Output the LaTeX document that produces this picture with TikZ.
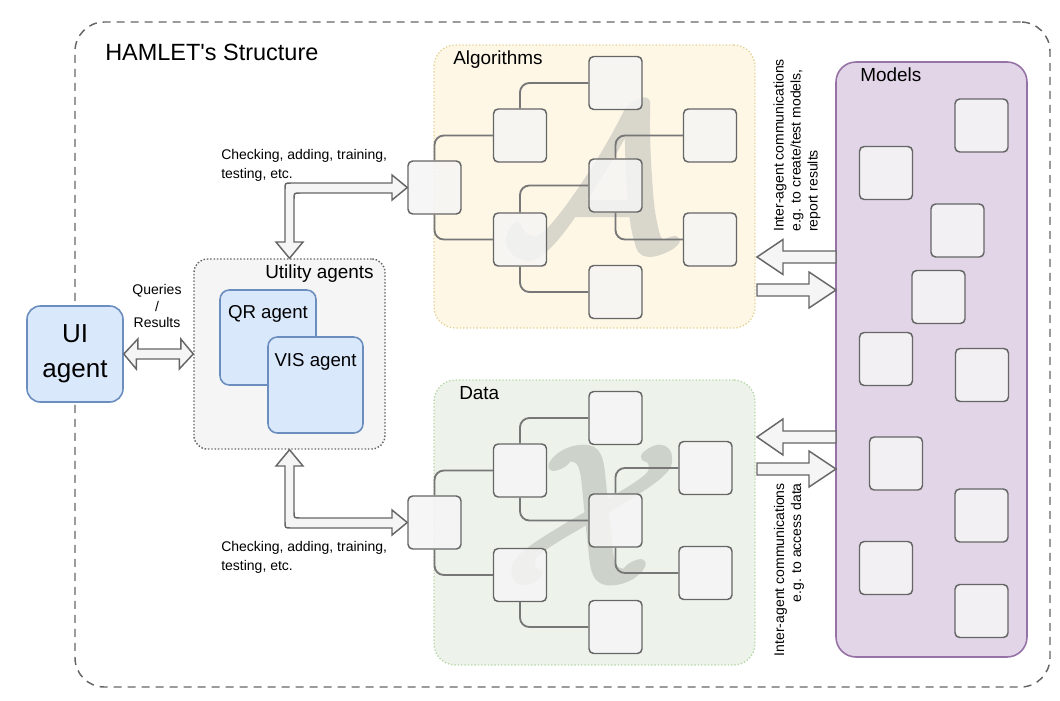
\documentclass[tikz,border=0pt]{standalone}
\usepackage{fontspec}
\setmainfont{Liberation Sans}[Ligatures=TeXOff]
\usetikzlibrary{calc}
\definecolor{cdark}{HTML}{666666}
\definecolor{cline}{HTML}{777777}
\definecolor{cbox}{HTML}{F5F5F5}
\definecolor{algfill}{HTML}{FEF7E6}
\definecolor{algdraw}{HTML}{E3D295}
\definecolor{datfill}{HTML}{EDF3EA}
\definecolor{datdraw}{HTML}{B7D7A8}
\definecolor{modfill}{HTML}{E1D5E7}
\definecolor{moddraw}{HTML}{9673A6}
\definecolor{bluefill}{HTML}{DAE8FC}
\definecolor{bluedraw}{HTML}{6C8EBF}
\definecolor{letterA}{HTML}{D9D6CC}
\definecolor{letterX}{HTML}{CDD3CA}
\newcommand{\fatglyph}[1]{\special{pdf:literal direct 2 Tr 0.3 w 1 j}#1\special{pdf:literal direct 0 Tr}}
\begin{document}
\begin{tikzpicture}[x=0.75pt,y=-0.75pt,
  cell/.style={draw=cdark, line width=1.1pt, fill=cbox, fill opacity=0.85, rounded corners=3.5pt, minimum size=39.75pt, inner sep=0pt},
  conn/.style={draw=cline, line width=1.4pt, rounded corners=7pt},
  barrow/.style={draw=cdark, line width=1.1pt, fill=cbox, line join=miter},
  bluebox/.style={draw=bluedraw, fill=bluefill, line width=1.2pt, inner sep=0pt},
  paneltitle/.style={font=\fontsize{14.2}{17}\selectfont, inner sep=0pt, anchor=west},
  smalltext/.style={font=\fontsize{10.5}{14.2}\selectfont, inner sep=0pt, align=left},
  vtext/.style={font=\fontsize{10.5}{12.75}\selectfont, inner sep=0pt, rotate=90},
  bigletter/.style={inner sep=0pt}
]
\useasboundingbox (0,0) rectangle (1060,700);

% outer dashed frame
\node[draw=cdark, line width=1.1pt, dash pattern=on 6pt off 4.5pt, rounded corners=22pt,
  minimum width=731.25pt, minimum height=498.75pt, inner sep=0pt] (outer) at (562.5,354.5) {};
\node[font=\fontsize{17.6}{21}\selectfont, inner sep=0pt, anchor=west] (title) at (105,52) {HAMLET's Structure};

% panels
\node[draw=algdraw, fill=algfill, line width=1pt, dash pattern=on 1pt off 1.5pt, rounded corners=16pt,
  minimum width=240.75pt, minimum height=212.25pt, inner sep=0pt] (alg) at (594.5,186.5) {};
\node[draw=datdraw, fill=datfill, line width=1pt, dash pattern=on 1pt off 1.5pt, rounded corners=16pt,
  minimum width=240.75pt, minimum height=213.75pt, inner sep=0pt] (dat) at (594.5,522.5) {};
\node[draw=moddraw, fill=modfill, line width=1.2pt, rounded corners=15pt,
  minimum width=143.25pt, minimum height=446.25pt, inner sep=0pt] (models) at (931.5,359.5) {};
\node[draw=cdark, fill=cbox, line width=1.1pt, dash pattern=on 1.1pt off 1.4pt, rounded corners=10pt,
  minimum width=143.25pt, minimum height=142.5pt, inner sep=0pt] (util) at (289.5,354) {};

\node[paneltitle] (algt) at (453,60) {Algorithms};
\node[paneltitle] (datt) at (459,393) {Data};
\node[paneltitle] (modt) at (860,75) {Models};
\node[paneltitle] (utilt) at (265,274) {Utility agents};

% big background letters
\node[bigletter, text=letterA, xscale=16.3, yscale=15.3] (bigA) at (590,178) {\fatglyph{$\mathcal{A}$}};
\node[bigletter, text=letterX, xscale=15.3, yscale=14.8] (bigX) at (592,515) {\fatglyph{$\mathcal{X}$}};

% algorithm boxes
\node[cell] (a0) at (434.5,187.5) {};
\node[cell] (a1) at (520,135.5) {};
\node[cell] (a2) at (615.5,83) {};
\node[cell] (a3) at (615.5,185.5) {};
\node[cell] (a4) at (520,239.5) {};
\node[cell] (a5) at (615.5,292) {};
\node[cell] (a6) at (710,135.5) {};
\node[cell] (a7) at (710,239.5) {};
\draw[conn] (a0.north) |- (a1.west);
\draw[conn] (a0.south) |- (a4.west);
\draw[conn] (a1.north) |- (a2.west);
\draw[conn] (a4.north) |- (a3.west);
\draw[conn] (a4.south) |- (a5.west);
\draw[conn] (a3.north) |- (a6.west);
\draw[conn] (a3.south) |- (a7.west);

% data boxes
\node[cell] (d0) at (434.5,522.5) {};
\node[cell] (d1) at (520,470.5) {};
\node[cell] (d2) at (615.5,418) {};
\node[cell] (d3) at (615.5,520.5) {};
\node[cell] (d4) at (520,575) {};
\node[cell] (d5) at (615.5,627) {};
\node[cell] (d6) at (705.5,468) {};
\node[cell] (d7) at (705.5,573) {};
\draw[conn] (d0.north) |- (d1.west);
\draw[conn] (d0.south) |- (d4.west);
\draw[conn] (d1.north) |- (d2.west);
\draw[conn] (d1.south) |- (d3.west);
\draw[conn] (d4.south) |- (d5.west);
\draw[conn] (d3.north) |- (d6.west);
\draw[conn] (d3.south) |- (d7.west);

% model boxes
\node[cell] (m1) at (981.5,125.5) {};
\node[cell] (m2) at (886,173) {};
\node[cell] (m3) at (957.5,230.5) {};
\node[cell] (m4) at (938.5,297) {};
\node[cell] (m5) at (886,359) {};
\node[cell] (m6) at (982,375) {};
\node[cell] (m7) at (896,463.5) {};
\node[cell] (m8) at (981.5,515.5) {};
\node[cell] (m9) at (886,568) {};
\node[cell] (m10) at (981.5,611) {};

% agents
\node[bluebox, rounded corners=10pt, minimum size=72pt, align=center,
  font=\fontsize{19.5}{26}\selectfont] (ui) at (75,354) {UI\\agent};
\node[bluebox, rounded corners=7pt, minimum width=72pt, minimum height=71.25pt] (qr) at (268,337.5) {};
\node[font=\fontsize{14}{17}\selectfont, inner sep=0pt] (qrt) at (268,314) {QR agent};
\node[bluebox, rounded corners=7pt, minimum width=71.25pt, minimum height=72pt] (vis) at (315.5,385) {};
\node[font=\fontsize{14}{17}\selectfont, inner sep=0pt] (vist) at (315.5,362) {VIS agent};

% UI <-> utility double arrow
\draw[barrow] (ui.east) -- ++(14,-15) -- ++(0,10) -- ++(43,0) -- ++(0,-10) -- (util.west)
  -- ++(-14,15) -- ++(0,-10) -- ++(-43,0) -- ++(0,10) -- cycle;
\node[font=\fontsize{10.5}{12.4}\selectfont, inner sep=0pt, align=center] (qlabel) at (157,306) {Queries\\/\\Results};

% utility <-> algorithms elbow double arrow
\draw[barrow] (util.north) -- (276,242) -- (285,242) -- (285,189) .. controls (285,183) .. (291,183)
  -- (392,183) -- (392,175) -- (a0.west) -- (392,200) -- (392,193) -- (300,193)
  .. controls (294,193) .. (294,199) -- (294,242) -- (303,242) -- cycle;
\node[smalltext, anchor=west] (chk1) at (221,165.5) {Checking, adding, training,\\testing, etc.};

% utility <-> data elbow double arrow
\draw[barrow] (util.south) -- (303,466) -- (294,466) -- (294,512) .. controls (294,518) .. (300,518)
  -- (392,518) -- (392,510) -- (d0.west) -- (392,535) -- (392,528) -- (291,528)
  .. controls (285,528) .. (285,522) -- (285,466) -- (276,466) -- cycle;
\node[smalltext, anchor=west] (chk2) at (221,557) {Checking, adding, training,\\testing, etc.};

% models <-> algorithms arrows
\draw[barrow] (836,251) -- (783,251) -- (783,239.5) -- (757,257) -- (783,274.5) -- (783,263) -- (836,263) -- cycle;
\draw[barrow] (757,284) -- (809,284) -- (809,272) -- (836,290) -- (809,308) -- (809,296) -- (757,296) -- cycle;
\node[vtext, anchor=west, align=left] (vt1) at (797,232) {Inter-agent communications\\e.g. to create/test models,\\report results};

% models <-> data arrows
\draw[barrow] (836,431) -- (783,431) -- (783,419) -- (757,437) -- (783,455) -- (783,443) -- (836,443) -- cycle;
\draw[barrow] (757,463) -- (809,463) -- (809,451) -- (836,469) -- (809,487) -- (809,475) -- (757,475) -- cycle;
\node[vtext, anchor=east, align=right] (vt2) at (789,483) {Inter-agent communications\\e.g. to access data};
\end{tikzpicture}
\end{document}
